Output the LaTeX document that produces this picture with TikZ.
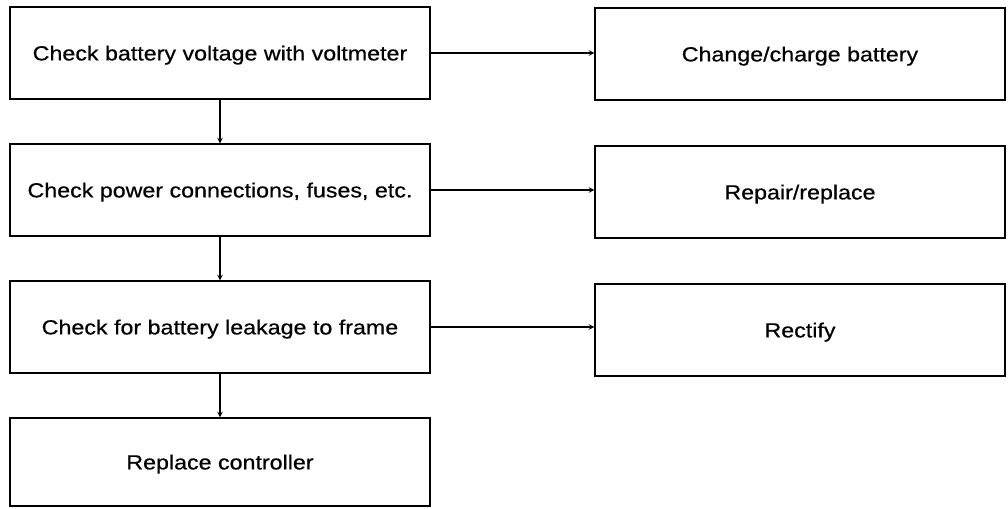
\documentclass[tikz,border=0pt]{standalone}
\usepackage{fontspec}
\setmainfont{Liberation Sans}[FakeStretch=1.14,FakeBold=0.6]
\usepackage{tikz}

\begin{document}
\begin{tikzpicture}[font=\fontsize{14.5}{17}\selectfont,
  arr/.style={->,>=stealth,line width=0.8pt},
  chk/.style={draw,line width=0.8pt,minimum width=10.5cm,minimum height=2.3cm,text depth=0pt},
  act/.style={draw,line width=0.8pt,minimum width=10.25cm,minimum height=2.3cm,text depth=0pt}]
\useasboundingbox (0,0) rectangle (25.2,12.7);
% left column: checks
\node[chk] (volt) at (5.5, 11.375) {Check battery voltage with voltmeter};
\node[chk] (conn) at (5.5, 7.95)   {Check power connections, fuses, etc.};
\node[chk] (leak) at (5.5, 4.525)  {Check for battery leakage to frame};
\node[chk,minimum height=2.2cm] (ctrl) at (5.5, 1.15) {Replace controller};
% right column: remedies
\node[act] (chg) at (20, 11.35) {Change/charge battery};
\node[act] (rep) at (20, 7.9)   {Repair/replace};
\node[act] (rec) at (20, 4.45)  {Rectify};
% arrows down the checks
\draw[arr] (volt) -- (conn);
\draw[arr] (conn) -- (leak);
\draw[arr] (leak) -- (ctrl);
% arrows across to the remedies
\draw[arr] (volt.east) -- (volt.east -| chg.west);
\draw[arr] (conn.east) -- (conn.east -| rep.west);
\draw[arr] (leak.east) -- (leak.east -| rec.west);
\end{tikzpicture}
\end{document}
